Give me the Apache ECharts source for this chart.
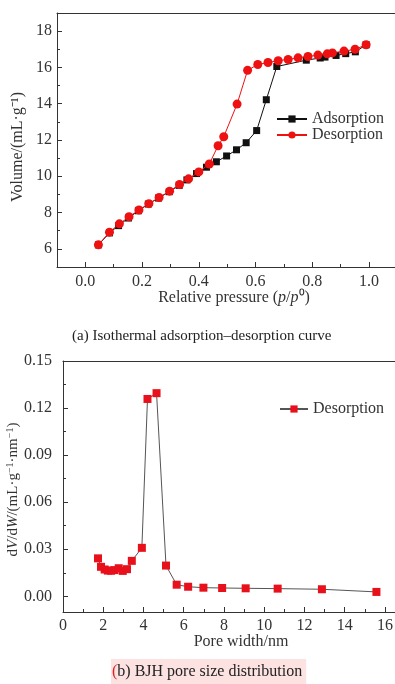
<!DOCTYPE html>
<html>
<head>
<meta charset="utf-8">
<script src="https://cdn.jsdelivr.net/npm/echarts@6/dist/echarts.min.js"></script>
<style>
html,body{margin:0;padding:0;background:#fff;}
#c{width:395px;height:684px;}
</style>
</head>
<body>
<div id="c"></div>
<script>
// ---- data: (a) isotherm ----
const adsorption = [
  [0.046,6.22],[0.085,6.88],[0.117,7.28],[0.152,7.70],[0.187,8.10],[0.222,8.47],
  [0.258,8.80],[0.296,9.15],[0.331,9.50],[0.358,9.80],[0.392,10.15],[0.427,10.50],
  [0.462,10.80],[0.498,11.12],[0.533,11.46],[0.567,11.85],[0.604,12.52],[0.638,14.22],
  [0.675,16.05],[0.779,16.40],[0.828,16.52],[0.845,16.57],[0.884,16.66],[0.918,16.76],
  [0.952,16.86],[0.990,17.25]
];
const desorption = [
  [0.990,17.25],[0.951,17.00],[0.912,16.90],[0.871,16.80],[0.853,16.75],[0.820,16.68],
  [0.785,16.60],[0.750,16.53],[0.715,16.44],[0.680,16.37],[0.644,16.27],[0.608,16.16],
  [0.572,15.84],[0.535,13.98],[0.488,12.18],[0.468,11.68],[0.437,10.68],[0.400,10.24],
  [0.364,9.86],[0.332,9.55],[0.297,9.18],[0.260,8.83],[0.224,8.49],[0.189,8.14],
  [0.154,7.77],[0.120,7.38],[0.085,6.92],[0.046,6.22]
];
// ---- data: (b) BJH ----
const poreWidth = [1.74,1.89,2.07,2.23,2.39,2.56,2.77,2.97,3.18,3.42,3.92,4.20,4.65,5.12,5.65,6.22,6.98,7.91,9.08,10.67,12.87,15.58];
const dVdW = [0.0242,0.0188,0.0171,0.0164,0.0163,0.0167,0.0179,0.0162,0.0173,0.0226,0.0309,0.1258,0.1295,0.0196,0.0074,0.0061,0.0055,0.0053,0.0051,0.0049,0.0045,0.0028];
// ---- tick labels ----
const topXTicks = [0.0,0.2,0.4,0.6,0.8,1.0];
const topXMinor = [0.1,0.3,0.5,0.7,0.9];
const topYTicks = [6,8,10,12,14,16,18];
const topYMinor = [7,9,11,13,15,17];
const botXTicks = [0,2,4,6,8,10,12,14,16];
const botXMinor = [1,3,5,7,9,11,13,15];
const botYTicks = [0.00,0.03,0.06,0.09,0.12,0.15];
const botYMinor = [0.015,0.045,0.075,0.105,0.135];

const FF = '"Liberation Serif","Times New Roman",serif';
const TXT = '#333';
const chart = echarts.init(document.getElementById('c'), null, {renderer:'canvas'});

function mainAxis(o){
  return Object.assign({
    type:'value',
    nameMoveOverlap:false,
    axisLine:{show:true,onZero:false,lineStyle:{color:'#333',width:1}},
    axisTick:{show:true,inside:true,length:5,lineStyle:{color:'#333'}},
    splitLine:{show:false},
    axisLabel:{color:TXT,fontFamily:FF,fontSize:16},
    nameTextStyle:{color:TXT,fontFamily:FF,fontSize:16}
  }, o);
}
function minorAxis(o, vals){
  return Object.assign({
    type:'value',
    axisLine:{show:false,onZero:false},
    axisTick:{show:true,inside:true,length:3,customValues:vals,lineStyle:{color:'#333'}},
    axisLabel:{show:false},
    splitLine:{show:false}
  }, o);
}
function borderAxis(o){
  return Object.assign({
    type:'value', position:'top',
    axisLine:{show:true,onZero:false,lineStyle:{color:'#333',width:1}},
    axisTick:{show:false}, axisLabel:{show:false}, splitLine:{show:false}
  }, o);
}

const option = {
  animation:false,
  backgroundColor:'#fff',
  title:[
    {text:'(a) Isothermal adsorption\u2013desorption curve', left:67, top:324,
     textStyle:{fontFamily:FF,fontSize:15,fontWeight:'normal',color:'#222'}},
    {text:'{r|(}b) BJH pore size distribution', left:111, top:659, padding:[5,4,7,1],
     backgroundColor:'#fde2e2',
     textStyle:{fontFamily:FF,fontSize:16,fontWeight:'normal',color:'#222',
       rich:{r:{fontFamily:FF,fontSize:16,color:'#d22'}}}}
  ],
  grid:[
    {left:57, top:13, right:-8, height:254, outerBoundsMode:'none', containLabel:false},
    {left:63, top:361, right:-10, height:251, outerBoundsMode:'none', containLabel:false}
  ],
  legend:[
    {orient:'vertical', left:271, top:106, itemWidth:30, itemHeight:9, itemGap:0,
     textStyle:{fontFamily:FF,fontSize:16,color:TXT},
     data:['Adsorption','Desorption']},
    {orient:'vertical', left:274, top:396, itemWidth:28, itemHeight:9,
     textStyle:{fontFamily:FF,fontSize:16,color:TXT},
     data:['Desorption ']}
  ],
  xAxis:[
    mainAxis({gridIndex:0, min:-0.1, max:1.12,
      axisTick:{show:true,inside:true,length:5,customValues:topXTicks,lineStyle:{color:'#333'}},
      axisLabel:{color:TXT,fontFamily:FF,fontSize:16,margin:7,customValues:topXTicks,formatter:v=>v.toFixed(1)},
      name:'Relative pressure ({i|p}/{i|p}\u2070)', nameLocation:'middle', nameGap:23,
      nameTextStyle:{color:TXT,fontFamily:FF,fontSize:16,padding:[0,0,0,8],
        rich:{i:{fontFamily:FF,fontSize:16,fontStyle:'italic',color:TXT}}}}),
    minorAxis({gridIndex:0, min:-0.1, max:1.12, position:'bottom'}, topXMinor),
    borderAxis({gridIndex:0, min:-0.1, max:1.12}),
    mainAxis({gridIndex:1, min:0, max:17,
      axisTick:{show:true,inside:true,length:5,customValues:botXTicks,lineStyle:{color:'#333'}},
      axisLabel:{color:TXT,fontFamily:FF,fontSize:16,margin:6,customValues:botXTicks,formatter:v=>String(v)},
      name:'Pore width/nm', nameLocation:'middle', nameGap:22,
      nameTextStyle:{color:TXT,fontFamily:FF,fontSize:16,padding:[0,0,0,14]}}),
    minorAxis({gridIndex:1, min:0, max:17, position:'bottom'}, botXMinor),
    borderAxis({gridIndex:1, min:0, max:17})
  ],
  yAxis:[
    mainAxis({gridIndex:0, min:5, max:19,
      axisTick:{show:true,inside:true,length:5,customValues:topYTicks,lineStyle:{color:'#333'}},
      axisLabel:{color:TXT,fontFamily:FF,fontSize:16,margin:5,customValues:topYTicks,formatter:v=>String(v)},
      name:'Volume/(mL\u00b7g\u207b\u00b9)', nameLocation:'middle', nameGap:31,
      nameTextStyle:{color:TXT,fontFamily:FF,fontSize:16,padding:[0,14,0,0]}}),
    minorAxis({gridIndex:0, min:5, max:19, position:'left'}, topYMinor),
    mainAxis({gridIndex:1, min:-0.01, max:0.15,
      axisTick:{show:true,inside:true,length:5,customValues:botYTicks,lineStyle:{color:'#333'}},
      axisLabel:{color:TXT,fontFamily:FF,fontSize:16,margin:11,customValues:botYTicks,formatter:v=>v.toFixed(2)},
      name:'d{i|V}/d{i|W}/(mL\u00b7g{s|\u22121}\u00b7nm{s|\u22121})', nameLocation:'middle', nameGap:42,
      nameTextStyle:{color:TXT,fontFamily:FF,fontSize:15,lineHeight:16,padding:[0,6,0,0],
        rich:{i:{fontFamily:FF,fontSize:15,lineHeight:16,fontStyle:'italic',color:TXT},
              s:{fontFamily:FF,fontSize:10,lineHeight:16,verticalAlign:'top',color:TXT}}}}),
    minorAxis({gridIndex:1, min:-0.01, max:0.15, position:'left'}, botYMinor)
  ],
  series:[
    {name:'Adsorption', type:'line', xAxisIndex:0, yAxisIndex:0, data:adsorption,
     symbol:'rect', symbolSize:7, showAllSymbol:true,
     lineStyle:{color:'#111',width:1}, itemStyle:{color:'#111'}, z:2},
    {name:'Desorption', type:'line', xAxisIndex:0, yAxisIndex:0, data:desorption,
     symbol:'circle', symbolSize:9, showAllSymbol:true,
     lineStyle:{color:'#ee1111',width:1}, itemStyle:{color:'#ee1111'}, z:3},
    {name:'Desorption ', type:'line', xAxisIndex:3, yAxisIndex:2,
     data:poreWidth.map((x,i)=>[x,dVdW[i]]),
     symbol:'rect', symbolSize:8, showAllSymbol:true,
     lineStyle:{color:'#555',width:1}, itemStyle:{color:'#e8101a'}, z:3}
  ]
};
chart.setOption(option);
</script>
</body>
</html>
